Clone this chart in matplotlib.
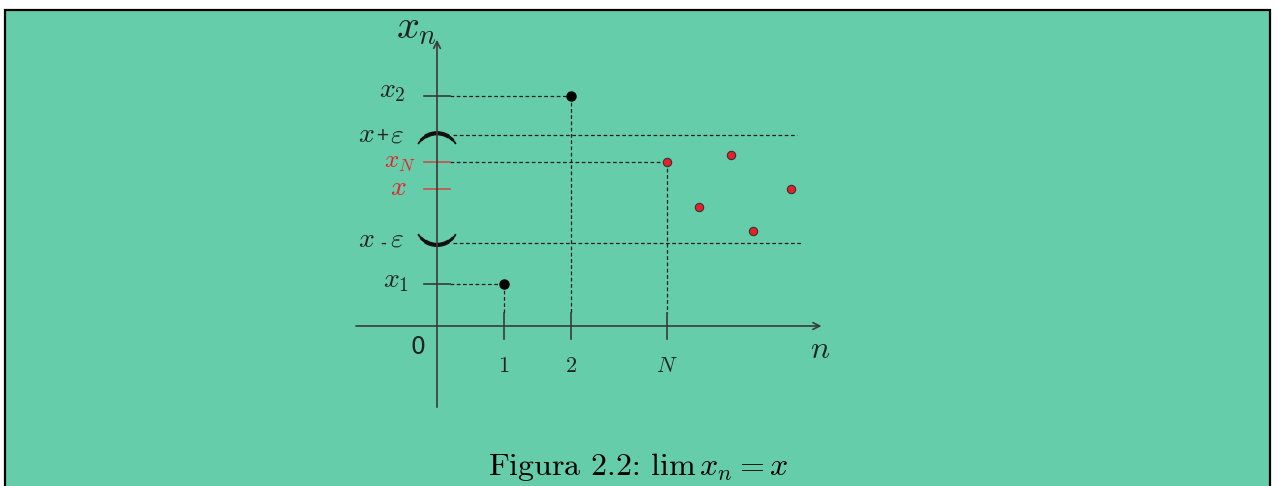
import matplotlib
matplotlib.use("Agg")
import matplotlib.pyplot as plt
from matplotlib.patches import Arc, Rectangle

plt.rcParams['mathtext.fontset'] = 'cm'

# n positions of the ticks on the horizontal axis
n_ticks = [1, 2, 3.43]
n_labels = ['1', '2', '$N$']

# sequence values
x1 = 1.0
x2 = 5.48
x_lim = 3.26
eps = 1.28
xN = 3.90

# terms of the sequence from N on (red dots)
tail_n = [3.43, 3.91, 4.39, 4.72, 5.28]
tail_x = [3.90, 2.83, 4.07, 2.26, 3.26]

# first terms (black dots)
head_n = [1, 2]
head_x = [x1, x2]

GREEN = '#66CDAA'
AXIS = '#3a3a3a'
DASH = '#1e1e1e'
RED = '#e8202a'
RED_TICK = '#c8504a'
INK = '#222222'

fig = plt.figure(figsize=(12.77, 4.86), dpi=100)
fig.patch.set_facecolor('white')

ax = fig.add_axes([0, 0, 1, 1])
ax.set_facecolor('none')
ax.set_xlim(-437 / 67, 840 / 67)
ax.set_ylim(-160 / 42, 326 / 42)
ax.axis('off')

ax.add_patch(Rectangle((5 / 1277, -0.05), 1265 / 1277, 1 - 10 / 486 + 0.05,
                       transform=fig.transFigure, facecolor=GREEN,
                       edgecolor='black', linewidth=1.6, zorder=-5, clip_on=False))

# axes with arrows
ax.annotate('', xy=(0, 6.88), xytext=(0, -2.0),
            arrowprops=dict(arrowstyle='->', color=AXIS, lw=1.2, mutation_scale=12))
ax.annotate('', xy=(5.78, 0), xytext=(-1.25, 0),
            arrowprops=dict(arrowstyle='->', color=AXIS, lw=1.2, mutation_scale=12))

dash = dict(color=DASH, lw=0.9, linestyle=(0, (3, 2)))

# x2 and x1 guides
for n, v in zip(head_n, head_x):
    ax.plot([0.19, n], [v, v], **dash)
    ax.plot([n, n], [v, 0.3], **dash)
    ax.plot([-0.19, 0.19], [v, v], color=AXIS, lw=1.2)
# xN guide
ax.plot([0.19, n_ticks[2]], [xN, xN], **dash)
ax.plot([n_ticks[2], n_ticks[2]], [xN, 0.3], **dash)
ax.plot([-0.19, 0.19], [xN, xN], color=RED_TICK, lw=1.2)
ax.plot([-0.19, 0.19], [x_lim, x_lim], color=RED_TICK, lw=1.2)

# epsilon band with its round brackets (thicker in the middle)
ax.plot([0.24, 5.37], [x_lim + eps, x_lim + eps], **dash)
ax.plot([0.24, 5.46], [x_lim - eps, x_lim - eps], **dash)
for (t1, t2), lw in [((43, 137), 1.3), ((55, 125), 2.2), ((68, 112), 3.0)]:
    ax.add_patch(Arc((0, x_lim + eps - 0.47), 0.651, 1.038, theta1=t1, theta2=t2,
                     color='#111111', lw=lw))
    ax.add_patch(Arc((0, x_lim - eps + 0.47), 0.651, 1.038, theta1=t1 + 180,
                     theta2=t2 + 180, color='#111111', lw=lw))

# tick marks on n axis
for n in n_ticks:
    ax.plot([n, n], [0.3, -0.31], color=AXIS, lw=1.2)

ax.plot(head_n, head_x, 'o', color='black', ms=6.5, zorder=5)
ax.plot(tail_n, tail_x, 'o', mfc=RED, mec='#333333', mew=0.8, ms=6, zorder=5)


def left_label(text, value, dx, dy, size=20, color=INK, ha='right', va='baseline',
               family=None):
    # dx, dy in pixels at 100 dpi (1 px = 0.72 pt)
    ax.annotate(text, xy=(0, value), xytext=(dx * 0.72, dy * 0.72),
                textcoords='offset points', ha=ha, va=va,
                fontsize=size, color=color, family=family)


left_label('$x_2$', x2, -31, -1)
left_label('$x$', x_lim + eps, -62, -7)
left_label('+', x_lim + eps, -55, 0, size=12, ha='center', va='center',
           family='DejaVu Sans')
left_label(r'$\varepsilon$', x_lim + eps, -33, -7)
left_label('$x_N$', xN, -21, -6, size=18, color=RED)
left_label('$x$', x_lim, -30, -6, color=RED)
left_label('$x$', x_lim - eps, -62, -4)
left_label('-', x_lim - eps, -54, 0, size=12, ha='center', va='center',
           family='DejaVu Sans')
left_label(r'$\varepsilon$', x_lim - eps, -33, -4)
left_label('$x_1$', x1, -28, -3)

for n, t in zip(n_ticks, n_labels):
    ax.text(n, -0.95, t, ha='center', va='center', fontsize=16, color=INK,
            family='cmr10')
ax.text(-0.28, -0.5, '0', ha='center', va='center', fontsize=17, color=INK)
ax.text(5.72, -0.57, '$n$', ha='center', va='center', fontsize=23, color=INK)
ax.text(-0.3, 7.12, '$x_n$', ha='center', va='center', fontsize=29, color=INK)

fig.text(638 / 1277, 1 - 467 / 486, r'Figura 2.2: $\lim\, x_n = x$',
         ha='center', va='center', fontsize=23, color='black', family='cmr10')

fig.savefig('out.png', dpi=100, facecolor='white')
